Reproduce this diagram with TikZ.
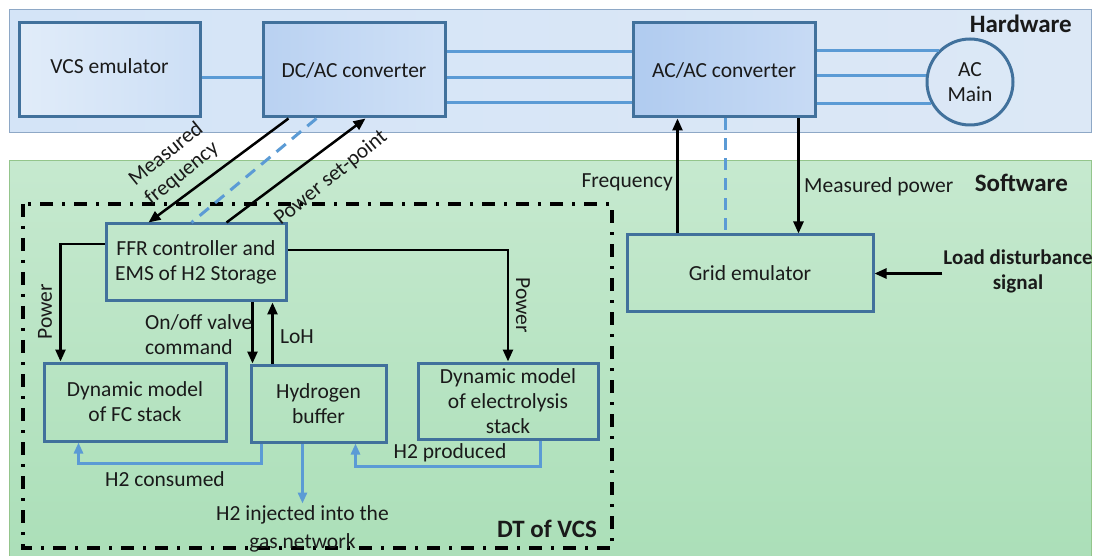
\documentclass[tikz,border=0pt]{standalone}
\usepackage{fontspec}
\setmainfont{Carlito}
\usetikzlibrary{arrows.meta,calc}
\definecolor{boxblue}{HTML}{41719C}
\definecolor{lineblue}{HTML}{5B9BD5}
\definecolor{hwL}{HTML}{D4E4F7}
\definecolor{hwM}{HTML}{A2C2ED}
\definecolor{hwR}{HTML}{DCE8F6}
\definecolor{hwborder}{HTML}{8EA8C6}
\definecolor{swT}{HTML}{C6E9CF}
\definecolor{swB}{HTML}{ABDFB8}
\definecolor{swborder}{HTML}{94C58C}
\definecolor{txt}{HTML}{1A1A1A}
\tikzset{
  box/.style={draw=boxblue, line width=3pt, align=center, inner sep=2pt, text=txt},
  blkline/.style={draw=black, line width=2.5pt},
  blk/.style={blkline, -{Triangle[length=12pt,width=10pt]}},
  bluline/.style={draw=lineblue, line width=3pt},
  bluarr/.style={bluline, -{Triangle[length=11pt,width=9pt]}},
  bludash/.style={draw=lineblue, line width=3pt, dash pattern=on 12pt off 8pt},
  dtframe/.style={draw=black, line width=3.5pt, dash pattern=on 13pt off 9pt on 3pt off 9pt},
  lbl/.style={text=txt, inner sep=1pt, align=center},
  bold/.style={lbl, font=\fontsize{25}{28}\selectfont\bfseries},
}
\begin{document}
\begin{tikzpicture}[x=1pt, y=-1pt, font=\fontsize{21.5}{25}\selectfont]
\useasboundingbox (0,0) rectangle (1096,556);
% panels
\draw[draw=hwborder, line width=1pt, left color=hwL, middle color=hwM, right color=hwR] (9,10) rectangle (1091,133);
\draw[draw=swborder, line width=1pt, top color=swT, bottom color=swB] (9,161) rectangle (1091,562);
\node[bold, anchor=east] (hwlabel) at (1073,24) {Hardware};
\node[bold, anchor=east] (swlabel) at (1069,183) {Software};

% hardware boxes
\node[box, minimum width=181pt, minimum height=94pt, left color=hwL!70!white, right color=hwL!85!hwM] (vcs) at (109.5,70) {\raisebox{7pt}{VCS emulator}};
\node[box, minimum width=182pt, minimum height=94pt, left color=hwM!75!white, right color=hwL!90!hwM] (dcac) at (354,70) {\raisebox{-4pt}{DC/AC converter}};
\node[box, minimum width=182pt, minimum height=94pt, left color=hwM!85!white, right color=hwM!60!white] (acac) at (724,70) {\raisebox{-4pt}{AC/AC converter}};
\node[box, circle, minimum size=86pt, inner sep=0pt] (acmain) at (970,82) {AC\\Main};

\draw[bluline] ($(vcs.east)+(0,8)$) -- ($(dcac.west)+(0,8)$);
\draw[bluline] ($(dcac.east)+(0,-18)$) -- ($(acac.west)+(0,-18)$);
\draw[bluline] ($(dcac.east)+(0,8)$) -- ($(acac.west)+(0,8)$);
\draw[bluline] ($(dcac.east)+(0,33)$) -- ($(acac.west)+(0,33)$);
\draw[bluline] (acmain.135.8) -- (acmain.135.8 -| acac.east);
\draw[bluline] (acmain.172) -- (acmain.172 -| acac.east);
\draw[bluline] (acmain.209.2) -- (acmain.209.2 -| acac.east);

% software boxes
\node[box, minimum width=180pt, minimum height=77pt] (ffr) at (196,262.5) {FFR controller and\\EMS of H2 Storage};
\node[box, minimum width=182pt, minimum height=78pt] (fc) at (135,402) {Dynamic model\\of FC stack};
\node[box, minimum width=135pt, minimum height=77pt] (hyd) at (318.5,403.5) {Hydrogen\\buffer};
\node[box, minimum width=180pt, minimum height=76pt] (ely) at (508,401) {Dynamic model\\of electrolysis\\stack};
\node[box, minimum width=246pt, minimum height=77pt] (grid) at (750,273.5) {Grid emulator};

% DT frame
\draw[dtframe] (23,204) rectangle (612,548);
\node[lbl, font=\fontsize{25}{28}\selectfont\bfseries] (dtlabel) at (547,529) {DT of VCS};

% hardware <-> FFR
\draw[blk] ($(dcac.south west)+(27,0)$) -- ($(ffr.north west)+(44,0)$);
\draw[bludash] ($(dcac.south west)+(55,0)$) -- ($(ffr.north west)+(87,0)$);
\draw[blk] ($(ffr.north west)+(122,0)$) -- ($(dcac.south west)+(104,0)$);
\node[lbl, rotate=39] (mflbl) at (174,164) {Measured\\frequency};
\node[lbl, rotate=39] (psplbl) at (331,178) {Power set-point};

% FFR -> models
\draw[blk] ($(ffr.west)+(0,-18.5)$) -| ($(fc.north west)+(18,0)$);
\node[lbl, rotate=90] (pwl) at (45,312) {Power};
\draw[blk] ($(ffr.east)+(0,-12.5)$) -| (ely.north);
\node[lbl, rotate=-90] (pwr) at (523,305) {Power};
\coordinate (onA) at ($(ffr.south west)+(148,0)$);
\draw[blk] (onA) -- (onA |- hyd.north);
\coordinate (lohA) at ($(hyd.north west)+(23,0)$);
\draw[blk] (lohA) -- (lohA |- ffr.south);
\node[lbl, anchor=west, align=left] (onoff) at (144,335) {On/off valve\\command};
\node[lbl] (loh) at (297,337) {LoH};

% hydrogen flows
\draw[bluarr] ($(hyd.south west)+(12,0)$) -- ++(0,20) -| ($(fc.south west)+(36,0)$);
\node[lbl] (h2c) at (165,479) {H2 consumed};
\draw[bluarr] ($(ely.south west)+(124,0)$) -- ++(0,26) -| ($(hyd.south west)+(106,0)$);
\node[lbl] (h2p) at (450,453) {H2 produced};
\draw[bluarr] ($(hyd.south west)+(53,0)$) -- ++(0,60) coordinate (inj);
\node[lbl, anchor=north, font=\fontsize{21.5}{28}\selectfont] (h2i) at ($(inj)+(0,1)$) {H2 injected into the\\gas network};

% grid emulator
\coordinate (frA) at ($(grid.north west)+(52,0)$);
\draw[blk] (frA) -- (frA |- acac.south);
\coordinate (dsA) at ($(acac.south west)+(94,0)$);
\draw[bludash] (dsA) -- (dsA |- grid.north);
\coordinate (mpA) at ($(acac.south west)+(167,0)$);
\draw[blk] (mpA) -- (mpA |- grid.north);
\node[lbl, anchor=east] (freq) at (674,182) {Frequency};
\node[lbl, anchor=west] (mpow) at (803,187) {Measured power};
\node[lbl, font=\fontsize{21}{25}\selectfont\bfseries] (load) at (1018,271) {Load disturbance\\signal};
\draw[blk] (load.west |- grid.east) -- (grid.east);
\end{tikzpicture}
\end{document}
